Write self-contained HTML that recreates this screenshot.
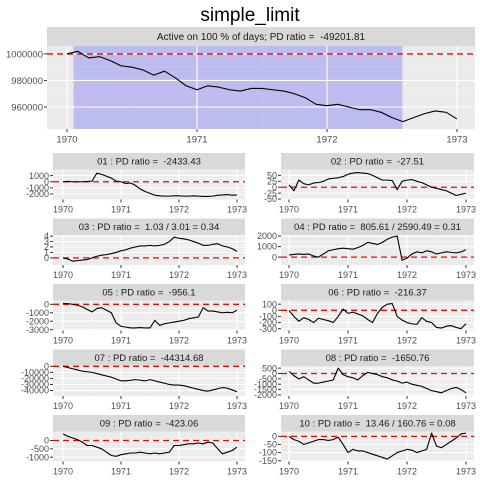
<!DOCTYPE html>
<html><head><meta charset="utf-8"><style>
body{margin:0;background:#fff}
svg{display:block;font-family:"Liberation Sans",Arial,sans-serif}
svg text{white-space:pre}
</style></head><body>
<svg id="c" width="480" height="480" viewBox="0 0 480 480">
<rect width="480" height="480" fill="#fff"/>
<text x="250" y="21" font-size="19" text-anchor="middle" fill="#000">simple_limit</text>
</svg>
<script>
const months = Array.from({length:37},(_,i)=>i/12);
const mainValues=[1000000,1002000,997000,998000,995000,991000,990000,988000,984000,987000,982000,976000,973000,976000,975000,973000,972000,974000,974000,973000,972000,970000,967000,962000,961000,962000,960000,958000,958000,956000,952000,949000,952000,955000,957000,956000,951000];
const mainTicks=[1000000,980000,960000];
const yearTicks=[1970,1971,1972,1973];
const activeEnd=2.58;
const titles=["01 : PD ratio =  -2433.43","02 : PD ratio =  -27.51","03 : PD ratio =  1.03 / 3.01 = 0.34","04 : PD ratio =  805.61 / 2590.49 = 0.31","05 : PD ratio =  -956.1","06 : PD ratio =  -216.37","07 : PD ratio =  -44314.68","08 : PD ratio =  -1650.76","09 : PD ratio =  -423.06","10 : PD ratio =  13.46 / 160.76 = 0.08"];
const s01=[0,50,0,-20,0,30,100,1400,1200,900,600,100,0,-300,-200,-600,-1200,-1600,-1900,-2200,-2300,-2350,-2350,-2300,-2300,-2350,-2350,-2300,-2350,-2400,-2400,-2350,-2200,-2150,-2100,-2200,-2150];
const s02=[10,-15,30,15,10,18,20,25,35,38,40,45,55,60,62,60,58,50,40,30,30,28,-10,25,30,32,25,20,10,0,-5,-10,-15,-25,-35,-30,-25];
const s03=[0,-0.2,-0.6,-0.5,-0.4,-0.3,0,0.3,0.5,0.6,0.8,1,1.3,1.5,1.8,2,2.2,2.2,2.3,2.2,2.3,2.5,3,3.8,3.6,3.5,3.3,3,2.7,2.3,2.3,2.5,2.6,2.2,2,1.7,1.2];
const s04=[200,250,300,250,300,100,0,300,600,700,800,850,800,750,900,1100,1400,1300,1200,1400,1700,1900,2000,-300,-100,300,500,400,600,500,300,400,500,450,400,500,700];
const s05=[100,80,0,-100,-300,-600,-900,-500,-400,-700,-1000,-2200,-2600,-2700,-2800,-2800,-2750,-2800,-2800,-1900,-2500,-2300,-2200,-2100,-2000,-1900,-1700,-1600,-1500,-400,-800,-800,-900,-1000,-950,-1000,-700];
const s06=[0,-100,-180,-120,-150,-200,-130,-150,-170,-200,-100,20,-50,-30,-60,-90,-150,-200,-50,50,100,110,-100,-160,-200,-220,-230,-120,-180,-200,-280,-290,-260,-250,-280,-300,-220];
const s07=[0,-2000,-4000,-6000,-8000,-9000,-10000,-12000,-14000,-16000,-18000,-21000,-24000,-24000,-23000,-22000,-23000,-24000,-22000,-24000,-26000,-28000,-30000,-31000,-31000,-32000,-34000,-36000,-38000,-40000,-41000,-39000,-37000,-35000,-36000,-39000,-42000];
const s08=[200,-200,-500,-300,-600,-900,-900,-800,-700,-600,500,-100,-300,-400,-600,-200,100,0,-100,-300,-400,-600,-700,-900,-800,-1000,-1100,-1200,-1400,-1600,-1700,-1800,-1600,-1400,-1300,-1500,-1800];
const s09=[400,250,150,50,-100,-300,-300,-400,-500,-700,-900,-950,-850,-800,-750,-750,-700,-750,-800,-750,-800,-750,-700,-300,-300,-250,-200,-200,-150,-200,-100,-150,-500,-800,-700,-600,-400];
const s10=[0,-20,-30,-50,-40,-30,-20,-20,-25,-20,-5,-50,-100,-80,-90,-90,-100,-110,-120,-130,-140,-120,-100,-90,-80,-85,-100,-90,-80,20,-60,-70,-50,-30,-10,15,20];
const t01=[1000,0,-1000,-2000],t02=[50,25,0,-25,-50],t03=[4,3,2,1,0],t04=[2000,1000,0],t05=[0,-1000,-2000,-3000];
const t06=[100,0,-100,-200,-300],t07=[0,-10000,-20000,-30000,-40000],t08=[500,0,-500,-1000,-1500,-2000],t09=[0,-500,-1000],t10=[0,-50,-100,-150];
const lim01=[-2900,2000],lim02=[-52,75],lim03=[-1.3,4.2],lim04=[-750,2100],lim05=[-3100,450],lim06=[-330,160],lim07=[-49000,500],lim08=[-2100,700],lim09=[-1260,540],lim10=[-155,30];

const svg=document.getElementById('c');
const NS='http://www.w3.org/2000/svg';
function mk(tag,attrs,parent){const e=document.createElementNS(NS,tag);for(const k in attrs)e.setAttribute(k,attrs[k]);(parent||svg).appendChild(e);return e;}

function panel(g, box, lim, ticks, values, title, fs, opts){
  const {x0,x1,y0,y1,ax0,ax1,sy,tickFs}=box;
  const X=t=>ax0+(t)/3*(ax1-ax0);
  const Y=v=>y1-(v-lim[0])/(lim[1]-lim[0])*(y1-y0);
  const strip=mk('rect',{x:x0,y:sy,width:x1-x0,height:y0-sy,fill:'#d9d9d9'},g);
  
  
  const st=mk('text',{x:(x0+x1)/2,y:(sy+y0)/2+fs*0.36,'font-size':fs,'text-anchor':'middle',fill:'#1a1a1a'},g);
  st.textContent=title;
  
  
  const bg=mk('rect',{x:x0,y:y0,width:x1-x0,height:y1-y0,fill:'#ebebeb'},g);
  
  
  for(let i=0;i<ticks.length-1;i++){const m=(ticks[i]+ticks[i+1])/2;const yy=Y(m);if(yy>y0&&yy<y1)mk('line',{x1:x0,x2:x1,y1:yy,y2:yy,stroke:'#f5f5f5','stroke-width':0.6},g);}
  for(let i=0;i<3;i++){const xx=X(i+0.5);mk('line',{x1:xx,x2:xx,y1:y0,y2:y1,stroke:'#f5f5f5','stroke-width':0.6},g);}
  if(opts&&opts.shade!=null){const sh=mk('rect',{x:X(opts.shadeStart),y:y0,width:X(opts.shade)-X(opts.shadeStart),height:y1-y0,fill:'#0000ff','fill-opacity':0.2},g);
    
    }
  ticks.forEach(v=>{const yy=Y(v);mk('line',{x1:x0,x2:x1,y1:yy,y2:yy,stroke:'#fff','stroke-width':1.1},g);
    mk('line',{x1:x0-3,x2:x0,y1:yy,y2:yy,stroke:'#333','stroke-width':1},g);
    const tl=mk('text',{x:x0-4,y:yy+tickFs*0.35,'font-size':tickFs,'text-anchor':'end',fill:'#4d4d4d'},g);
    tl.textContent=v;
    
    });
  yearTicks.forEach((yr,i)=>{const xx=X(i);mk('line',{x1:xx,x2:xx,y1:y0,y2:y1,stroke:'#fff','stroke-width':1.1},g);
    mk('line',{x1:xx,x2:xx,y1:y1,y2:y1+3,stroke:'#333','stroke-width':1},g);
    const tl=mk('text',{x:xx,y:y1+4+tickFs,'font-size':tickFs,'text-anchor':'middle',fill:'#4d4d4d'},g);
    tl.textContent=yr;
    
    });
  const ref=(opts&&opts.ref!=null)?opts.ref:0;
  const rl=mk('line',{x1:x0,x2:x1,y1:Y(ref),y2:Y(ref),stroke:'#ff0000','stroke-width':1.3,'stroke-dasharray':'6,4'},g);
  
  
  let d='';values.forEach((v,i)=>{const xx=X(months[i]),yy=Y(v);d+=(i==0?'M':' L')+xx.toFixed(2)+' '+yy.toFixed(2);});
  const p=mk('path',{d:d,fill:'none',stroke:'#000','stroke-width':1.1,'stroke-linejoin':'round'},g);
  
  
}

const gm=mk('g',{});


panel(gm,{x0:47,x1:475,y0:46,y1:129,ax0:67,ax1:457,sy:27,tickFs:9.5},[943400,1006000],mainTicks,mainValues,"Active on 100 % of days; PD ratio =  -49201.81",10,{ref:1000000,shade:activeEnd,shadeStart:0.05});

const series=[s01,s02,s03,s04,s05,s06,s07,s08,s09,s10];
const tks=[t01,t02,t03,t04,t05,t06,t07,t08,t09,t10];
const lims=[lim01,lim02,lim03,lim04,lim05,lim06,lim07,lim08,lim09,lim10];
series.forEach((s,i)=>{
  const col=i%2,row=Math.floor(i/2);
  const sy=153+row*65.5;
  const box=col==0?{x0:53,x1:245,ax0:63,ax1:237}:{x0:281,x1:474,ax0:289,ax1:466};
  box.sy=sy;box.y0=sy+16.5;box.y1=sy+46.5;box.tickFs=9;
  const g=mk('g',{});
  
  
  panel(g,box,lims[i],tks[i],s,titles[i],9.5,{ref:0});
});
</script>
</body></html>
